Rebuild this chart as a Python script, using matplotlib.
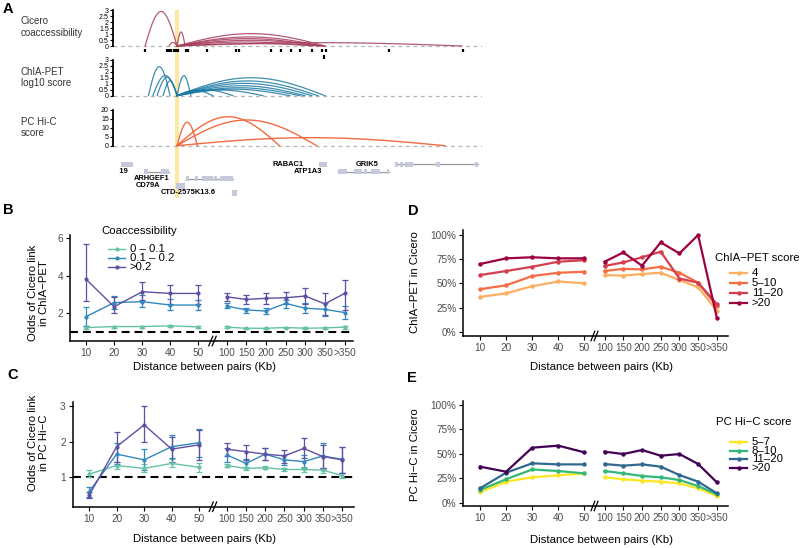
import numpy as np
import matplotlib
matplotlib.use('Agg')
import matplotlib.pyplot as plt
from matplotlib.lines import Line2D
from matplotlib.patches import Rectangle
import matplotlib.transforms as mtransforms

plt.rcParams['font.family'] = ['Liberation Sans', 'DejaVu Sans']

# ---------------- data : panel A (positions in kb relative to CD79A promoter) -------------
cicero_start = [-17.4, -4.4, 0, 0, 0, 0, 0, 0, 0, 0]
cicero_end = [0, 0, 4.4, 80.7, 79.0, 76.8, 79.6, 74.1, 80.7, 155.3]
cicero_score = [2.9, 0.3, 1.18, 1.04, 0.76, 0.62, 0.48, 0.34, 0.2, 0.28]

chia_start = [-15.6, -13.2, -10.9, -7.6, 0, 0, 0, 0, 0, 0, 0, 0, 0, 0]
chia_end = [-3.8, 0.3, 0, 0, 7.5, 80.7, 76.8, 73.6, 69.8, 67.0, 61.6, 46.9, 30.5, 19.6]
chia_score = [2.44, 1.7, 1.55, 1.25, 1.68, 1.51, 1.24, 1.04, 0.84, 0.67, 0.55, 0.48, 0.5, 0.45]

hic_start = [0, 0, 0, 0]
hic_end = [11.1, 55.8, 76.1, 146.1]
hic_score = [13.1, 16.2, 14.4, 4.5]

peak_pos = [-17.4, -5.6, -4.4, -3.3, -1.6, -0.5, 0.4, 4.9, 6.2, 16.2, 32.2, 33.8, 51.2,
            56.7, 62.0, 67.0, 73.4, 78.9, 81.2, 115.5, 155.6, 80.1]
peak_row = [0] * 21 + [1]

gene_names = ['', 'RPS19', 'CD79A', 'ARHGEF1', 'CTD-2575K13.6', 'RABAC1', 'ATP1A3', 'GRIK5']
gene_rows = [0, 1, 3, 2, 4, 0, 1, 0]
gene_exons = [
    [(-30.5, -24.1)],
    [(-17.8, -15.6), (-8.7, -4.2)],
    [(-0.5, 4.4)],
    [(4.9, 6.4), (9.8, 11.6), (13.8, 19.8), (20.2, 21.6), (23.4, 30.4)],
    [(29.8, 32.9)],
    [(77.6, 81.6)],
    [(87.6, 92.5), (96.2, 100.7), (102.0, 103.8), (105.7, 110.6), (114.3, 115.7)],
    [(118.8, 120.6), (121.5, 123.3), (124.3, 128.8), (141.2, 143.3), (162.4, 164.2)],
]
viewpoint = (-1.1, 1.1)

# ---------------- data : panels B-E -------------
dist_labels = ['10', '20', '30', '40', '50', '100', '150', '200', '250', '300', '350', '>350']

coacc_groups = ['0 – 0.1', '0.1 – 0.2', '>0.2']
B_mean = [[1.24, 1.29, 1.29, 1.33, 1.27, 1.26, 1.20, 1.20, 1.24, 1.20, 1.22, 1.26],
          [1.82, 2.57, 2.62, 2.44, 2.44, 2.39, 2.18, 2.12, 2.53, 2.27, 2.21, 2.04],
          [3.82, 2.35, 3.15, 3.06, 3.06, 2.88, 2.74, 2.80, 2.83, 2.92, 2.50, 3.06]]
B_lo = [[1.14, 1.24, 1.24, 1.28, 1.22, 1.21, 1.16, 1.16, 1.19, 1.15, 1.15, 1.18],
        [1.33, 2.21, 2.32, 2.18, 2.18, 2.27, 2.04, 1.95, 2.30, 2.04, 1.86, 1.68],
        [2.67, 2.04, 2.71, 2.50, 2.48, 2.65, 2.50, 2.48, 2.50, 2.48, 1.91, 2.18]]
B_hi = [[1.34, 1.34, 1.34, 1.38, 1.32, 1.31, 1.24, 1.24, 1.29, 1.25, 1.29, 1.34],
        [2.32, 2.92, 2.97, 2.74, 2.71, 2.53, 2.30, 2.27, 2.71, 2.53, 2.57, 2.39],
        [5.72, 2.85, 3.65, 3.50, 3.50, 3.10, 2.97, 3.06, 3.15, 3.33, 3.06, 3.77]]

C_mean = [[1.09, 1.33, 1.25, 1.39, 1.28, 1.33, 1.25, 1.27, 1.22, 1.22, 1.20, 1.05],
          [0.60, 1.65, 1.49, 1.86, 1.97, 1.63, 1.39, 1.65, 1.49, 1.44, 1.60, 1.50],
          [0.50, 1.86, 2.47, 1.79, 1.91, 1.79, 1.72, 1.65, 1.60, 1.81, 1.58, 1.49]]
C_lo = [[1.00, 1.22, 1.14, 1.28, 1.16, 1.28, 1.20, 1.22, 1.17, 1.16, 1.11, 0.99],
        [0.46, 1.36, 1.20, 1.53, 1.58, 1.44, 1.25, 1.49, 1.35, 1.25, 1.22, 1.11],
        [0.41, 1.44, 2.00, 1.44, 1.49, 1.60, 1.49, 1.49, 1.39, 1.53, 1.25, 1.11]]
C_hi = [[1.20, 1.44, 1.37, 1.50, 1.39, 1.37, 1.30, 1.32, 1.27, 1.28, 1.27, 1.12],
        [0.74, 1.95, 1.79, 2.19, 2.36, 1.81, 1.50, 1.81, 1.63, 1.63, 1.95, 1.86],
        [0.60, 2.28, 3.00, 2.14, 2.33, 1.97, 1.90, 1.81, 1.77, 2.09, 1.90, 1.86]]

chia_groups = ['4', '5–10', '11–20', '>20']
D_pct = [[36, 39.7, 47, 52, 50, 58.6, 58, 59.7, 61, 53.4, 46, 21.7],
         [44, 48, 57.6, 61, 62, 62.8, 65, 64.5, 67.2, 61, 50.7, 26.5],
         [58.6, 62.8, 67.2, 72.4, 74, 68, 71.7, 77, 82.8, 55, 50.7, 28.6],
         [70, 75.9, 77, 75.9, 75.9, 72.4, 82, 68.3, 92.4, 81, 100, 14.5]]

hic_groups = ['5–7', '8–10', '11–20', '>20']
E_pct = [[10.6, 21.5, 26, 28, 30, 26, 24, 22.5, 21.5, 19.8, 14.7, 6.8],
         [13, 24, 34, 32.4, 30, 32.4, 30, 27.3, 26, 23.2, 17, 8.5],
         [14.7, 30.7, 40.3, 39.2, 39.2, 39.6, 37.9, 39.2, 36.9, 28.3, 21.5, 9.6],
         [36.9, 31.7, 56.3, 58.4, 51.5, 52.2, 49.8, 53.9, 48.1, 49.8, 39.6, 20.8]]

# ---------------- styling -------------
W, H = 800, 548
fig = plt.figure(figsize=(8, 5.48), dpi=100)


def rect(l, t, r, b):
    return [l / W, 1 - b / H, (r - l) / W, (b - t) / H]


def fx(x):
    return x / W


def fy(y):
    return 1 - y / H


TICK_C = '#4d4d4d'
XLIM_A = (-34.9, 166.2)

# yellow viewpoint band
axbg = fig.add_axes(rect(113, 10, 482, 198))
axbg.set_xlim(*XLIM_A)
axbg.set_ylim(0, 1)
axbg.axvspan(viewpoint[0], viewpoint[1], color='#fce7a3', lw=0)
axbg.axis('off')


def arc(ax, s, e, h, color, lw=0.9, alpha=0.85):
    t = np.linspace(0, 1, 80)
    ax.plot(s + (e - s) * t, h * np.sin(np.pi * t), color=color, lw=lw, alpha=alpha,
            solid_capstyle='round')


def track(top, bottom, ylim, ticks, labels, maxv):
    ax = fig.add_axes(rect(113, top, 482, bottom))
    ax.patch.set_visible(False)
    ax.set_xlim(*XLIM_A)
    ax.set_ylim(*ylim)
    for s in ['top', 'right', 'bottom']:
        ax.spines[s].set_visible(False)
    ax.spines['left'].set_bounds(0, maxv)
    ax.spines['left'].set_linewidth(1.3)
    ax.set_xticks([])
    ax.set_yticks(ticks)
    ax.set_yticklabels(labels)
    ax.tick_params(axis='y', length=2, width=0.8, pad=1, labelsize=5, colors='black')
    ax.axhline(0, color='#b3b3b3', lw=0.9, dashes=(3, 3), zorder=0)
    return ax


half = [0, 0.5, 1, 1.5, 2, 2.5, 3]
half_lab = ['0', '0.5', '1', '1.5', '2', '2.5', '3']
ax_c = track(9.1, 59.1, (-1.1, 3.1), half, half_lab, 3)
for s, e, h in zip(cicero_start, cicero_end, cicero_score):
    arc(ax_c, s, e, h, '#a53d5c')
for p, r in zip(peak_pos, peak_row):
    y0 = -0.22 - 0.56 * r
    ax_c.plot([p, p], [y0, y0 - 0.27], color='black', lw=1.6, solid_capstyle='butt')

ax_p = track(58.8, 98.7, (-0.25, 3.1), half, half_lab, 3)
for s, e, h in zip(chia_start, chia_end, chia_score):
    arc(ax_p, s, e, h, '#1d7aa3')

ax_h = track(108.2, 148.4, (-1.5, 21), [0, 5, 10, 15, 20], ['0', '5', '10', '15', '20'], 20)
for s, e, h in zip(hic_start, hic_end, hic_score):
    arc(ax_h, s, e, h, '#f3623a', lw=1.0, alpha=0.95)

# gene track
ax_g = fig.add_axes(rect(119, 158, 482, 198))
ax_g.patch.set_visible(False)
ax_g.set_xlim((119 - 177) * 0.545, XLIM_A[1])
ax_g.set_ylim(4.72, -0.915)
ax_g.axis('off')
for name, row, exons in zip(gene_names, gene_rows, gene_exons):
    gs, ge = exons[0][0], exons[-1][1]
    if len(exons) > 1:
        ax_g.plot([gs, ge], [row, row], color='#9a9a9a', lw=0.9, zorder=1)
    for a, b in exons:
        ax_g.add_patch(Rectangle((a, row - 0.39), b - a, 0.78, facecolor='#c6c9dc',
                                 edgecolor='none', zorder=2))
    if name:
        ax_g.annotate(name, (gs, row), xytext=(-11.5, 0), textcoords='offset points',
                      ha='right', va='center', fontsize=5.4, fontweight='bold',
                      annotation_clip=False, clip_on=True)

# track labels
fig.text(fx(20.7), fy(27), 'Cicero\ncoaccessibility', ha='left', va='center', fontsize=7,
         color='#333333', linespacing=1.15)
fig.text(fx(20.7), fy(77.5), 'ChIA-PET\nlog10 score', ha='left', va='center', fontsize=7,
         color='#333333', linespacing=1.15)
fig.text(fx(20.7), fy(127.7), 'PC Hi-C\nscore', ha='left', va='center', fontsize=7,
         color='#333333', linespacing=1.15)

# panel letters
for letter, x, y in [('A', 3, 9), ('B', 3, 210), ('C', 7, 375), ('D', 408, 211), ('E', 407, 378)]:
    fig.text(fx(x), fy(y), letter, ha='left', va='center', fontsize=10.5, fontweight='bold')


# ---------------- panels B-E -------------
def positions(gap, rstep):
    return np.array([i + 1 if i < 5 else 5 + gap + (i - 5) * rstep
                     for i in range(len(dist_labels))])


def style_axes(ax, xlim, ylim, pos, yticks, yticklabels):
    ax.set_xlim(*xlim)
    ax.set_ylim(*ylim)
    for s in ['top', 'right']:
        ax.spines[s].set_visible(False)
    for s in ['left', 'bottom']:
        ax.spines[s].set_linewidth(1.1)
    ax.set_xticks(pos)
    ax.set_xticklabels(dist_labels)
    ax.set_yticks(yticks)
    ax.set_yticklabels(yticklabels)
    ax.tick_params(length=3, width=0.8, labelsize=7.2, labelcolor=TICK_C, pad=2)
    ax.set_facecolor('none')
    # axis break mark
    mid = (pos[4] + pos[5]) / 2
    tr = mtransforms.blended_transform_factory(ax.transData, ax.transAxes)
    off = (xlim[1] - xlim[0]) * 0.006
    for d in (-off, off):
        ax.plot([mid + d - off * 1.2, mid + d + off * 1.2], [-0.045, 0.045], color='black',
                lw=0.9, transform=tr, clip_on=False, zorder=5)


posBC = positions(1.0, 0.70)
posDE = positions(0.77, 0.717)
seg = [slice(0, 5), slice(5, 12)]

coacc_colors = ['#66C2A5', '#3288BD', '#5E4FA2']
chia_colors = ['#FDAE61', '#F46D43', '#D53E4F', '#9E0142']
hic_colors = ['#FDE725', '#35B779', '#31688E', '#440154']


def odds_panel(rc, xlim, ylim, yt, means, los, his, ylabel, ylab_xy, xlab_xy):
    ax = fig.add_axes(rect(*rc))
    style_axes(ax, xlim, ylim, posBC, yt, [str(v) for v in yt])
    ax.axhline(1, color='black', lw=1.5, dashes=(3.8, 2.4), zorder=1)
    for m, lo, hi, c in zip(means, los, his, coacc_colors):
        m, lo, hi = np.array(m), np.array(lo), np.array(hi)
        for sl in seg:
            ax.errorbar(posBC[sl], m[sl], yerr=[m[sl] - lo[sl], hi[sl] - m[sl]], color=c,
                        lw=1.0, marker='o', ms=2, capsize=2.3, elinewidth=0.9, capthick=0.9,
                        zorder=3)
    fig.text(fx(ylab_xy[0]), fy(ylab_xy[1]), ylabel, rotation=90, ha='center', va='center',
             fontsize=8.2, linespacing=1.15, multialignment='center')
    fig.text(fx(xlab_xy[0]), fy(xlab_xy[1]), 'Distance between pairs (Kb)', ha='center',
             va='center', fontsize=8.2)
    return ax


axB = odds_panel((70, 235, 353, 341), (0.43, 10.5), (0.52, 6.18), [2, 4, 6],
                 B_mean, B_lo, B_hi, 'Odds of Cicero link\nin ChIA\u2212PET', (38.5, 293),
                 (205, 366.7))
axC = odds_panel((72.7, 401.7, 354, 506.7), (0.40, 10.63), (0.176, 3.12), [1, 2, 3],
                 C_mean, C_lo, C_hi, 'Odds of Cicero link\nin PC Hi\u2212C', (38.5, 443),
                 (205, 539))


def pct_panel(rc, ylim, data, colors, ylabel, ylab_xy, xlab_xy):
    ax = fig.add_axes(rect(*rc))
    style_axes(ax, (0.36, 10.51), ylim, posDE, [0, 25, 50, 75, 100],
               ['0%', '25%', '50%', '75%', '100%'])
    for vals, c in zip(data, colors):
        vals = np.array(vals)
        for sl in seg:
            ax.plot(posDE[sl], vals[sl], color=c, lw=1.6, marker='o', ms=2.2, zorder=3)
    fig.text(fx(ylab_xy[0]), fy(ylab_xy[1]), ylabel, rotation=90, ha='center', va='center',
             fontsize=8.2)
    fig.text(fx(xlab_xy[0]), fy(xlab_xy[1]), 'Distance between pairs (Kb)', ha='center',
             va='center', fontsize=8.2)
    return ax


axD = pct_panel((463.3, 230, 728.3, 336), (-4.4, 105.2), D_pct, chia_colors,
                'ChIA\u2212PET in Cicero', (415, 282), (601.7, 366.7))
axE = pct_panel((463.3, 400.7, 728.3, 506), (-3.4, 104.4), E_pct, hic_colors,
                'PC Hi\u2212C in Cicero', (415, 455), (601.7, 540))


# ---------------- legends -------------
def manual_legend(title, tx, ty, labels, colors, ys, x0, x1, textx, lw, ms):
    fig.text(fx(tx), fy(ty), title, ha='left', va='center', fontsize=8.2)
    for lab, c, y in zip(labels, colors, ys):
        fig.add_artist(Line2D([fx(x0), fx(x1)], [fy(y), fy(y)], color=c, lw=lw,
                              transform=fig.transFigure))
        fig.add_artist(Line2D([fx((x0 + x1) / 2)], [fy(y)], color=c, marker='o', ms=ms,
                              transform=fig.transFigure))
        fig.text(fx(textx), fy(y), lab, ha='left', va='center', fontsize=8.2)


manual_legend('Coaccessibility', 101.7, 231, coacc_groups, coacc_colors,
              [248.7, 257.7, 266.7], 108, 125, 130, 1.0, 2)
manual_legend('ChIA\u2212PET score', 715, 258.3, chia_groups, chia_colors,
              [273.3, 283.3, 293.3, 303.3], 730, 747, 752, 1.6, 2.2)
manual_legend('PC Hi\u2212C score', 716, 421.7, hic_groups, hic_colors,
              [441.7, 450.5, 459.3, 468.1], 730, 747, 752, 1.6, 2.2)

fig.savefig('out.png', dpi=100)
